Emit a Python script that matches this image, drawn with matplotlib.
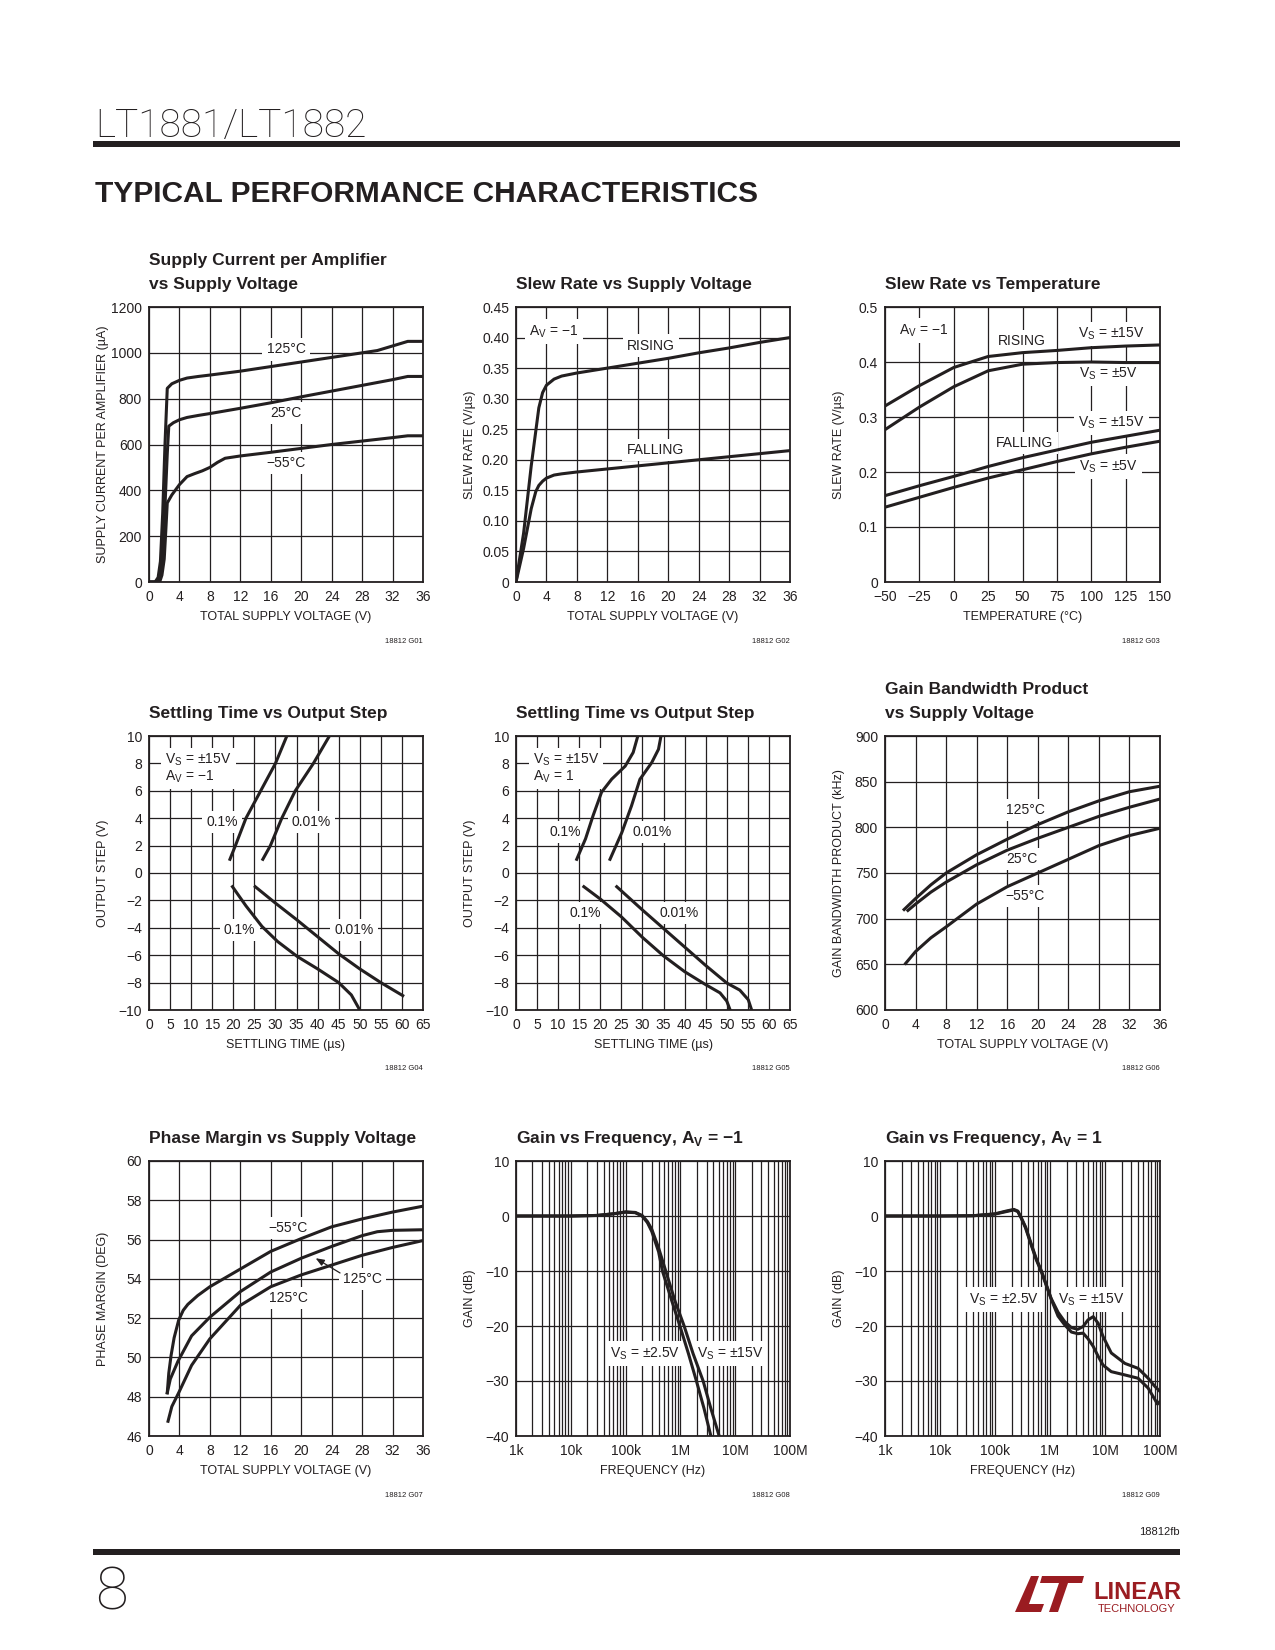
import numpy as np
import matplotlib.pyplot as plt
from matplotlib.patches import Rectangle, Polygon
from matplotlib.ticker import LogLocator, NullFormatter

NARROW = ['Liberation Sans Narrow', 'Liberation Sans', 'DejaVu Sans']
plt.rcParams['font.family'] = NARROW
plt.rcParams['axes.unicode_minus'] = True

INK = '#231f20'
RED = '#9a1c21'
M = '\u2212'

# ---------------- G01 supply current vs supply voltage
icc_v125 = [0, 0.8, 1.2, 1.5, 1.8, 2.1, 2.4, 3.0, 4.0, 5.0, 6.5, 8, 12, 16, 20, 24, 28, 30, 32, 34, 36]
icc_125 = [0, 0, 20, 90, 300, 600, 845, 865, 880, 890, 897, 903, 920, 940, 960, 980, 1000, 1010, 1030, 1050, 1050]
icc_v25 = [0, 1.1, 1.5, 1.8, 2.1, 2.4, 2.6, 3.2, 4.0, 5.0, 6.5, 8, 12, 16, 20, 24, 28, 32, 34, 36]
icc_25 = [0, 0, 30, 120, 330, 560, 680, 695, 708, 718, 727, 735, 758, 782, 808, 833, 858, 883, 897, 897]
icc_vm55 = [0, 1.4, 1.7, 2.0, 2.2, 2.4, 3.0, 4.0, 5.0, 6.0, 7.0, 8.0, 9.0, 10.0, 12, 16, 20, 24, 28, 32, 34, 36]
icc_m55 = [0, 0, 30, 100, 220, 345, 380, 425, 460, 473, 485, 500, 522, 540, 550, 566, 583, 600, 615, 630, 638, 638]

# ---------------- G02 slew rate vs supply voltage
sr_v_rise = [0, 1, 2, 3, 3.5, 4, 5, 6, 8, 12, 16, 20, 24, 28, 32, 36]
sr_rise = [0, 0.08, 0.19, 0.285, 0.31, 0.322, 0.332, 0.337, 0.342, 0.35, 0.358, 0.366, 0.375, 0.383, 0.392, 0.40]
sr_v_fall = [0, 1, 2, 2.6, 3, 3.5, 4, 5, 6, 8, 12, 16, 20, 24, 28, 32, 36]
sr_fall = [0, 0.055, 0.12, 0.148, 0.158, 0.165, 0.17, 0.175, 0.177, 0.18, 0.185, 0.19, 0.195, 0.2, 0.205, 0.21, 0.215]

# ---------------- G03 slew rate vs temperature
temp = [-50, -25, 0, 25, 50, 75, 100, 125, 150]
sr_rise15 = [0.32, 0.357, 0.39, 0.41, 0.417, 0.421, 0.426, 0.429, 0.431]
sr_rise5 = [0.277, 0.318, 0.355, 0.384, 0.396, 0.399, 0.40, 0.399, 0.399]
sr_fall15 = [0.157, 0.175, 0.192, 0.21, 0.226, 0.24, 0.254, 0.265, 0.276]
sr_fall5 = [0.136, 0.154, 0.172, 0.189, 0.204, 0.219, 0.233, 0.245, 0.256]

# ---------------- G04 settling time, Av = -1
st4_t_r01 = [19.2, 20.5, 23.0, 26.5, 30.0, 32.7]
st4_v_r01 = [1, 2, 4, 6, 8, 10]
st4_t_r001 = [27.0, 28.8, 31.5, 34.7, 39.0, 42.8]
st4_v_r001 = [1, 2, 4, 6, 8, 10]
st4_t_f01 = [19.8, 23.0, 26.8, 30.5, 35.2, 40, 45, 48, 50]
st4_v_f01 = [-1, -2.4, -3.9, -5.0, -6.1, -7.0, -8.0, -8.9, -10]
st4_t_f001 = [25.2, 30, 35, 40, 45, 50, 55, 60.2]
st4_v_f001 = [-1, -2.2, -3.4, -4.65, -5.9, -7.0, -8.0, -8.95]

# ---------------- G05 settling time, Av = 1
st5_t_r01 = [14.4, 16.5, 18.3, 20.3, 22.7, 25.9, 27.8, 28.9]
st5_v_r01 = [1, 2.5, 4.2, 5.9, 6.85, 7.8, 8.8, 10]
st5_t_r001 = [22.3, 25.1, 27.4, 29.4, 32.2, 33.8, 34.4]
st5_v_r001 = [1, 2.95, 4.9, 6.84, 8.06, 9.03, 10]
st5_t_f01 = [16.1, 20, 25, 30, 35, 40, 45, 48.4, 50, 50.8]
st5_v_f01 = [-1, -1.9, -3.2, -4.7, -6.05, -7.2, -8.15, -8.75, -9.35, -10]
st5_t_f001 = [23.9, 30, 35, 40, 45, 50, 53.1, 55.1, 55.9]
st5_v_f001 = [-1, -2.7, -4.05, -5.4, -6.75, -8.03, -8.55, -9.25, -10]

# ---------------- G06 gain bandwidth vs supply voltage
gbw_v125 = [2.5, 4, 6, 8, 12, 16, 20, 24, 28, 32, 36]
gbw_125 = [710, 722, 737, 750, 770, 787, 803, 817, 829, 839, 845]
gbw_v25 = [3, 4, 6, 8, 12, 16, 20, 24, 28, 32, 36]
gbw_25 = [709, 716, 729, 740, 759, 775, 788, 800, 812, 822, 831]
gbw_vm55 = [2.7, 4, 6, 8, 12, 16, 20, 24, 28, 32, 36]
gbw_m55 = [651, 664, 679, 691, 716, 735, 750, 765, 780, 791, 799]

# ---------------- G07 phase margin vs supply voltage
pm_v_top = [2.4, 2.6, 2.9, 3.3, 3.9, 4.5, 5.1, 6.4, 8, 12, 16, 20, 24, 28, 32, 36]
pm_top = [48.2, 49.2, 50.1, 51.0, 51.9, 52.4, 52.7, 53.15, 53.6, 54.5, 55.4, 56.05, 56.65, 57.05, 57.4, 57.7]
pm_v_mid = [2.4, 2.8, 3.8, 5.6, 8, 12, 16, 20, 24, 28, 30, 32, 36]
pm_mid = [48.2, 48.9, 49.8, 51.1, 52.05, 53.35, 54.35, 55.05, 55.65, 56.2, 56.4, 56.47, 56.5]
pm_v_low = [2.5, 3.0, 3.9, 5.6, 8, 12, 16, 20, 24, 28, 32, 36]
pm_low = [46.75, 47.5, 48.2, 49.6, 50.95, 52.65, 53.6, 54.2, 54.7, 55.2, 55.6, 55.95]

# ---------------- G08 gain vs frequency, Av = -1
g8_f25 = [1e3, 1e4, 3e4, 6e4, 1e5, 1.5e5, 2e5, 2.5e5, 3e5, 4e5, 4.7e5, 7e5, 9.8e5, 1.4e6, 1.96e6, 2.7e6, 3.6e6]
g8_g25 = [0, 0, 0.1, 0.4, 0.7, 0.6, 0, -1.2, -2.8, -6.5, -10, -15.5, -20, -25, -30, -35, -40]
g8_f15 = [1e3, 1e4, 3e4, 6e4, 1e5, 1.5e5, 2e5, 2.5e5, 3e5, 4e5, 5.4e5, 8e5, 1.17e6, 1.7e6, 2.6e6, 3.6e6, 5.1e6]
g8_g15 = [0, 0, 0.1, 0.4, 0.75, 0.65, 0.1, -1.0, -2.4, -5.8, -10, -15.5, -20, -25, -30, -35, -40]

# ---------------- G09 gain vs frequency, Av = 1
g9_fa = [1e3, 1e4, 4e4, 1e5, 1.6e5, 2.2e5, 2.6e5, 3e5, 3.6e5, 4.6e5, 5.6e5, 7e5, 1.05e6, 1.4e6, 1.85e6,
         2.45e6, 3.2e6, 4e6, 4.9e6, 6.1e6, 7.5e6, 9.2e6, 1.3e7, 2.3e7, 4e7, 6.1e7, 8.1e7, 1e8]
g9_ga = [0, 0, 0.05, 0.4, 0.9, 1.2, 0.9, -0.3, -2.0, -5.2, -7.7, -10, -15, -17.5, -19.2,
         -20.3, -20.6, -20.1, -18.9, -18.3, -19.5, -21.9, -24.9, -26.8, -27.7, -29.5, -31.0, -31.9]
g9_fb = [1e3, 1e4, 4e4, 1e5, 1.6e5, 2.2e5, 2.6e5, 3e5, 3.6e5, 4.6e5, 5.6e5, 7e5, 1.05e6, 1.4e6, 1.85e6,
         2.45e6, 3.2e6, 4e6, 4.9e6, 6.1e6, 7.5e6, 9.2e6, 1.3e7, 2.3e7, 4e7, 6.1e7, 8.1e7, 9e7, 1e8]
g9_gb = [0, 0, 0.05, 0.35, 0.8, 1.1, 0.8, -0.4, -2.2, -5.4, -7.9, -10.2, -15.1, -18.2, -19.8,
         -21.1, -21.4, -21.3, -22.3, -23.7, -25.5, -27.1, -28.3, -28.9, -29.5, -31.3, -33.4, -34.2, -33.7]

# ---------------- tick values / labels
volt_ticks = list(range(0, 37, 4))
volt_labels = [str(v) for v in volt_ticks]
icc_ticks = list(range(0, 1201, 200))
icc_labels = [str(v) for v in icc_ticks]
sr_ticks = [0, 0.05, 0.10, 0.15, 0.20, 0.25, 0.30, 0.35, 0.40, 0.45]
sr_labels = ['0', '0.05', '0.10', '0.15', '0.20', '0.25', '0.30', '0.35', '0.40', '0.45']
temp_ticks = list(range(-50, 151, 25))
temp_labels = [str(v).replace('-', M) for v in temp_ticks]
srt_ticks = [0, 0.1, 0.2, 0.3, 0.4, 0.5]
srt_labels = ['0', '0.1', '0.2', '0.3', '0.4', '0.5']
time_ticks = list(range(0, 66, 5))
time_labels = [str(v) for v in time_ticks]
step_ticks = list(range(-10, 11, 2))
step_labels = [str(v).replace('-', M) for v in step_ticks]
gbw_ticks = list(range(600, 901, 50))
gbw_labels = [str(v) for v in gbw_ticks]
pm_ticks = list(range(46, 61, 2))
pm_labels = [str(v) for v in pm_ticks]
freq_ticks = [1e3, 1e4, 1e5, 1e6, 1e7, 1e8]
freq_labels = ['1k', '10k', '100k', '1M', '10M', '100M']
gain_ticks = list(range(-40, 11, 10))
gain_labels = [str(v).replace('-', M) for v in gain_ticks]

W, H = 1275, 1650
fig = plt.figure(figsize=(W / 100, H / 100), dpi=100)

col_l = [149, 516, 885]
col_r = [423, 790, 1160]
row_t = [307, 736, 1161]
row_b = [582, 1010, 1436]


def make_ax(r, c):
    return fig.add_axes([col_l[c] / W, 1 - row_b[r] / H,
                         (col_r[c] - col_l[c]) / W, (row_b[r] - row_t[r]) / H])


def setup(ax, xlim, ylim, xt, xtl, yt, ytl, xlabel, ylabel, title, code, logx=False):
    if logx:
        ax.set_xscale('log')
        ax.xaxis.set_minor_locator(LogLocator(base=10, subs=np.arange(2, 10), numticks=50))
        ax.xaxis.set_minor_formatter(NullFormatter())
    ax.set_xlim(xlim)
    ax.set_ylim(ylim)
    ax.set_xticks(xt, xtl)
    ax.set_yticks(yt, ytl)
    ax.grid(True, which='both', color=INK, lw=0.9)
    ax.set_axisbelow(True)
    ax.tick_params(which='both', length=0, labelsize=10, labelcolor=INK)
    ax.tick_params(axis='x', pad=6)
    ax.tick_params(axis='y', pad=5)
    for sp in ax.spines.values():
        sp.set_linewidth(1.3)
        sp.set_color(INK)
    ax.set_xlabel(xlabel, fontsize=9, color=INK)
    ax.set_ylabel(ylabel, fontsize=9, color=INK)
    ax.xaxis.set_label_coords(0.5, -0.105)
    ax.yaxis.set_label_coords(-0.146, 0.5)
    for i, line in enumerate(reversed(title)):
        ax.annotate(line, xy=(0, 1), xycoords='axes fraction', xytext=(0, 13 + 17.5 * i),
                    textcoords='offset points', ha='left', va='baseline',
                    fontsize=12.5, fontweight='bold', color=INK)
    ax.text(1, -0.215, code, transform=ax.transAxes, ha='right', va='center',
            fontsize=5.5, color=INK)


def curve(ax, x, y):
    ax.plot(x, y, color=INK, lw=2.2, zorder=5, solid_joinstyle='round')


def tag(ax, x, y, s, ha='center', **kw):
    ax.text(x, y, s, ha=ha, va='center', fontsize=10, color=INK, zorder=4,
            bbox=dict(boxstyle='square,pad=0.3', fc='white', ec='none'), **kw)


VS = r'V$_\mathregular{S}$'
AV = r'A$_\mathregular{V}$'

# G01
ax = make_ax(0, 0)
setup(ax, (0, 36), (0, 1200), volt_ticks, volt_labels, icc_ticks, icc_labels,
      'TOTAL SUPPLY VOLTAGE (V)', 'SUPPLY CURRENT PER AMPLIFIER (\u00b5A)',
      ['Supply Current per Amplifier', 'vs Supply Voltage'], '18812 G01')
curve(ax, icc_v125, icc_125)
curve(ax, icc_v25, icc_25)
curve(ax, icc_vm55, icc_m55)
tag(ax, 18, 1015, '125\u00b0C')
tag(ax, 18, 737, '25\u00b0C')
tag(ax, 18, 520, M + '55\u00b0C')

# G02
ax = make_ax(0, 1)
setup(ax, (0, 36), (0, 0.45), volt_ticks, volt_labels, sr_ticks, sr_labels,
      'TOTAL SUPPLY VOLTAGE (V)', 'SLEW RATE (V/\u00b5s)',
      ['Slew Rate vs Supply Voltage'], '18812 G02')
curve(ax, sr_v_rise, sr_rise)
curve(ax, sr_v_fall, sr_fall)
tag(ax, 5.0, 0.41, AV + ' = ' + M + '1')
tag(ax, 17.7, 0.387, 'RISING')
tag(ax, 18.3, 0.216, 'FALLING')

# G03
ax = make_ax(0, 2)
setup(ax, (-50, 150), (0, 0.5), temp_ticks, temp_labels, srt_ticks, srt_labels,
      'TEMPERATURE (\u00b0C)', 'SLEW RATE (V/\u00b5s)',
      ['Slew Rate vs Temperature'], '18812 G03')
curve(ax, temp, sr_rise15)
curve(ax, temp, sr_rise5)
curve(ax, temp, sr_fall15)
curve(ax, temp, sr_fall5)
tag(ax, -21.6, 0.457, AV + ' = ' + M + '1')
tag(ax, 49.3, 0.438, 'RISING')
tag(ax, 114.8, 0.451, VS + ' = \u00b115V')
tag(ax, 112.4, 0.378, VS + ' = \u00b15V')
tag(ax, 114.8, 0.289, VS + ' = \u00b115V')
tag(ax, 51.7, 0.253, 'FALLING')
tag(ax, 112.4, 0.21, VS + ' = \u00b15V')

# G04
ax = make_ax(1, 0)
setup(ax, (0, 65), (-10, 10), time_ticks, time_labels, step_ticks, step_labels,
      'SETTLING TIME (\u00b5s)', 'OUTPUT STEP (V)',
      ['Settling Time vs Output Step'], '18812 G04')
curve(ax, st4_t_r01, st4_v_r01)
curve(ax, st4_t_r001, st4_v_r001)
curve(ax, st4_t_f01, st4_v_f01)
curve(ax, st4_t_f001, st4_v_f001)
tag(ax, 3.9, 7.65, VS + ' = \u00b115V\n' + AV + ' = ' + M + '1', ha='left', linespacing=1.0)
tag(ax, 17.3, 3.72, '0.1%')
tag(ax, 38.5, 3.72, '0.01%')
tag(ax, 21.5, -4.14, '0.1%')
tag(ax, 48.6, -4.14, '0.01%')

# G05
ax = make_ax(1, 1)
setup(ax, (0, 65), (-10, 10), time_ticks, time_labels, step_ticks, step_labels,
      'SETTLING TIME (\u00b5s)', 'OUTPUT STEP (V)',
      ['Settling Time vs Output Step'], '18812 G05')
curve(ax, st5_t_r01, st5_v_r01)
curve(ax, st5_t_r001, st5_v_r001)
curve(ax, st5_t_f01, st5_v_f01)
curve(ax, st5_t_f001, st5_v_f001)
tag(ax, 4.0, 7.65, VS + ' = \u00b115V\n' + AV + ' = 1', ha='left', linespacing=1.0)
tag(ax, 11.6, 3.0, '0.1%')
tag(ax, 32.3, 3.0, '0.01%')
tag(ax, 16.5, -2.92, '0.1%')
tag(ax, 38.7, -2.92, '0.01%')

# G06
ax = make_ax(1, 2)
setup(ax, (0, 36), (600, 900), volt_ticks, volt_labels, gbw_ticks, gbw_labels,
      'TOTAL SUPPLY VOLTAGE (V)', 'GAIN BANDWIDTH PRODUCT (kHz)',
      ['Gain Bandwidth Product', 'vs Supply Voltage'], '18812 G06')
curve(ax, gbw_v125, gbw_125)
curve(ax, gbw_v25, gbw_25)
curve(ax, gbw_vm55, gbw_m55)
tag(ax, 18.4, 819, '125\u00b0C')
tag(ax, 17.9, 765, '25\u00b0C')
tag(ax, 18.3, 725, M + '55\u00b0C')

# G07
ax = make_ax(2, 0)
setup(ax, (0, 36), (46, 60), volt_ticks, volt_labels, pm_ticks, pm_labels,
      'TOTAL SUPPLY VOLTAGE (V)', 'PHASE MARGIN (DEG)',
      ['Phase Margin vs Supply Voltage'], '18812 G07')
curve(ax, pm_v_top, pm_top)
curve(ax, pm_v_mid, pm_mid)
curve(ax, pm_v_low, pm_low)
tag(ax, 18.3, 56.6, M + '55\u00b0C')
tag(ax, 28.1, 53.98, '125\u00b0C')
tag(ax, 18.35, 53.03, '125\u00b0C')
ax.annotate('', xy=(21.9, 55.05), xytext=(25.1, 54.3),
            arrowprops=dict(arrowstyle='-|>,head_length=0.5,head_width=0.2', lw=0.9,
                            color=INK, shrinkA=0, shrinkB=0), zorder=6)

# G08
ax = make_ax(2, 1)
setup(ax, (1e3, 1e8), (-40, 10), freq_ticks, freq_labels, gain_ticks, gain_labels,
      'FREQUENCY (Hz)', 'GAIN (dB)',
      ['Gain vs Frequency, ' + AV + ' = ' + M + '1'], '18812 G08', logx=True)
curve(ax, g8_f25, g8_g25)
curve(ax, g8_f15, g8_g15)
tag(ax, 2.27e5, -25, VS + ' = \u00b12.5V')
tag(ax, 8.06e6, -25, VS + ' = \u00b115V')

# G09
ax = make_ax(2, 2)
setup(ax, (1e3, 1e8), (-40, 10), freq_ticks, freq_labels, gain_ticks, gain_labels,
      'FREQUENCY (Hz)', 'GAIN (dB)',
      ['Gain vs Frequency, ' + AV + ' = 1'], '18812 G09', logx=True)
curve(ax, g9_fa, g9_ga)
curve(ax, g9_fb, g9_gb)
tag(ax, 1.48e5, -15.2, VS + ' = \u00b12.5V')
tag(ax, 5.66e6, -15.2, VS + ' = \u00b115V')

# ---------------- page furniture
LIGHT = ['Roboto', 'Lato', 'DejaVu Sans']
fig.text(95 / W, 1 - 137 / H, 'LT1881/LT1882', fontsize=28, family=LIGHT, fontweight='light',
         ha='left', va='baseline', color=INK)
fig.add_artist(Rectangle((93 / W, 1 - 147 / H), 1087 / W, 6 / H, transform=fig.transFigure,
                         color=INK, lw=0))
fig.text(95 / W, 1 - 202 / H, 'TYPICAL PERFORMANCE CHARACTERISTICS', fontsize=21.5,
         fontweight='bold', ha='left', va='baseline', color=INK)
fig.text(1180 / W, 1 - 1535 / H, '18812fb', fontsize=8, ha='right', va='baseline', color=INK)
fig.add_artist(Rectangle((93 / W, 1 - 1555 / H), 1087 / W, 6 / H, transform=fig.transFigure,
                         color=INK, lw=0))
fig.text(95 / W, 1 - 1610 / H, '8', fontsize=43, family=LIGHT, fontweight='light',
         ha='left', va='baseline', color=INK)

# Linear Technology logo
logo_l = [(1015, 1612), (1041, 1612), (1044, 1604), (1029, 1604), (1039, 1576), (1031, 1576)]
logo_t = [(1042, 1576), (1084, 1576), (1082, 1583), (1068, 1583), (1058, 1612), (1049, 1612),
          (1059, 1583), (1040, 1583)]
for shape in (logo_l, logo_t):
    fig.add_artist(Polygon([(x / W, 1 - y / H) for x, y in shape], closed=True,
                           transform=fig.transFigure, fc=RED, ec='none'))
fig.text(1137 / W, 1 - 1599 / H, 'LINEAR', fontsize=17, fontweight='bold', ha='center',
         va='baseline', color=RED)
fig.text(1137 / W, 1 - 1612 / H, 'TECHNOLOGY', fontsize=8, ha='center', va='baseline', color=RED)

fig.savefig('out.png', dpi=100, facecolor='white')
